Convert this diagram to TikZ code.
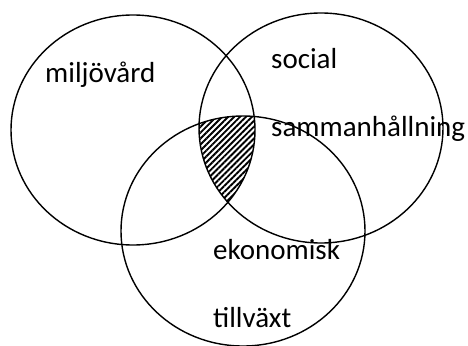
\documentclass[tikz,border=0pt]{standalone}
\usepackage{fontspec}
\setmainfont{Carlito}
\usetikzlibrary{patterns.meta}
\begin{document}
\begin{tikzpicture}[x=1pt,y=-1pt,
  ring/.style={line width=1.4pt},
  lbl/.style={anchor=base west,inner sep=0pt,font=\fontsize{29}{34}\selectfont}]
\useasboundingbox (0,0) rectangle (468,345);
\coordinate (cA) at (133,130);
\coordinate (cB) at (321,128);
\coordinate (cC) at (243,231);
\begin{scope}
  \clip (cA) ellipse [x radius=122pt, y radius=115pt];
  \clip (cB) ellipse [x radius=122pt, y radius=115pt];
  \fill[pattern={Lines[angle=45,distance=4.2pt,line width=1.9pt]}] (cC) ellipse [x radius=122pt, y radius=115pt];
\end{scope}
\draw[ring] (cA) ellipse [x radius=122pt, y radius=115pt];
\draw[ring] (cB) ellipse [x radius=122pt, y radius=115pt];
\draw[ring] (cC) ellipse [x radius=122pt, y radius=115pt];
\node[lbl] (m) at (45,82) {miljövård};
\node[lbl] (s) at (271,68) {social};
\node[lbl] (sh) at (271,136) {sammanhållning};
\node[lbl] (e) at (213,259) {ekonomisk};
\node[lbl] (t) at (213,327) {tillväxt};
\end{tikzpicture}
\end{document}
